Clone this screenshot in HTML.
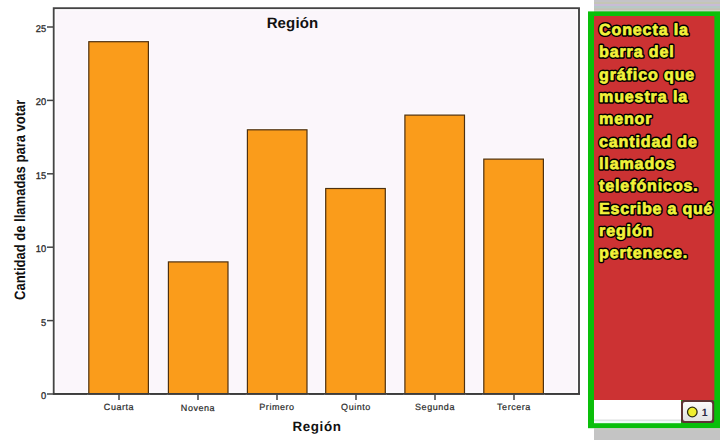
<!DOCTYPE html>
<html><head><meta charset="utf-8">
<style>
html,body{margin:0;padding:0;width:720px;height:440px;overflow:hidden;background:#fff;}
svg{display:block;}
text{font-family:"Liberation Sans", sans-serif;text-rendering:geometricPrecision;}
</style></head>
<body>
<svg width="720" height="440" viewBox="0 0 720 440">
  <rect x="0" y="0" width="720" height="440" fill="#ffffff"/>
  <!-- plot area -->
  <rect x="53.75" y="8.2" width="525.25" height="385.7" fill="#fbf6fb" stroke="#444444" stroke-width="1.9"/>
  <rect x="55.4" y="9.9" width="521.9" height="382.4" fill="none" stroke="#ffffff" stroke-width="1.2" stroke-opacity="0.8"/>
  <!-- y ticks -->
  <g stroke="#444" stroke-width="1.5">
    <line x1="47" y1="394" x2="53" y2="394"/>
    <line x1="47" y1="320.6" x2="53" y2="320.6"/>
    <line x1="47" y1="247.2" x2="53" y2="247.2"/>
    <line x1="47" y1="173.8" x2="53" y2="173.8"/>
    <line x1="47" y1="100.4" x2="53" y2="100.4"/>
    <line x1="47" y1="27" x2="53" y2="27"/>
  </g>
  <g font-size="10" fill="#2a2a2a" stroke="#2a2a2a" stroke-width="0.3" text-anchor="end">
    <text transform="translate(46.2,398.90) scale(0.93,0.97)">0</text>
    <text transform="translate(46.2,325.50) scale(0.93,0.97)">5</text>
    <text transform="translate(46.2,252.10) scale(0.93,0.97)">10</text>
    <text transform="translate(46.2,178.70) scale(0.93,0.97)">15</text>
    <text transform="translate(46.2,105.30) scale(0.93,0.97)">20</text>
    <text transform="translate(46.2,31.90) scale(0.93,0.97)">25</text>
  </g>
  <!-- bars -->
  <g fill="#ffffff" stroke="#ffffff" stroke-width="3.4" stroke-opacity="0.75">
    <rect x="88.8" y="41.7" width="59.6" height="352.3"/>
    <rect x="168.4" y="261.9" width="59.6" height="132.1"/>
    <rect x="247.4" y="129.8" width="59.6" height="264.2"/>
    <rect x="325.7" y="188.5" width="59.6" height="205.5"/>
    <rect x="404.9" y="115.1" width="59.6" height="278.9"/>
    <rect x="483.8" y="159.1" width="59.6" height="234.9"/>
  </g>
  <g fill="#fa9c1b" stroke="#4e3010" stroke-width="1.2">
    <rect x="88.8" y="41.7" width="59.6" height="352.3"/>
    <rect x="168.4" y="261.9" width="59.6" height="132.1"/>
    <rect x="247.4" y="129.8" width="59.6" height="264.2"/>
    <rect x="325.7" y="188.5" width="59.6" height="205.5"/>
    <rect x="404.9" y="115.1" width="59.6" height="278.9"/>
    <rect x="483.8" y="159.1" width="59.6" height="234.9"/>
  </g>
  <line x1="53" y1="393.9" x2="580" y2="393.9" stroke="#3c3c3c" stroke-width="1.9"/>
  <!-- x ticks -->
  <g stroke="#444" stroke-width="1.5">
    <line x1="119" y1="394" x2="119" y2="400"/>
    <line x1="198" y1="394" x2="198" y2="400"/>
    <line x1="277" y1="394" x2="277" y2="400"/>
    <line x1="356" y1="394" x2="356" y2="400"/>
    <line x1="435" y1="394" x2="435" y2="400"/>
    <line x1="514" y1="394" x2="514" y2="400"/>
  </g>
  <g font-size="9" fill="#2a2a2a" stroke="#2a2a2a" stroke-width="0.2" letter-spacing="0.55" text-anchor="middle">
    <text x="119" y="410">Cuarta</text>
    <text x="198" y="410.6">Novena</text>
    <text x="277" y="410">Primero</text>
    <text x="356" y="410">Quinto</text>
    <text x="435" y="410">Segunda</text>
    <text x="514" y="410">Tercera</text>
  </g>
  <text x="292.5" y="28.2" font-size="15" font-weight="bold" letter-spacing="0.15" text-anchor="middle" fill="#111">Región</text>
  <text x="317" y="431.2" font-size="13.4" font-weight="bold" letter-spacing="0.6" text-anchor="middle" fill="#111">Región</text>
  <text transform="translate(25.4,199.8) rotate(-90) scale(0.868,1)" font-size="15" font-weight="bold" text-anchor="middle" fill="#111">Cantidad de llamadas para votar</text>

  <!-- right panel -->
  <rect x="594" y="0" width="126" height="440" fill="#c4c4c4"/>
  <rect x="594" y="0" width="126" height="2" fill="#c4c3c8"/>
  <rect x="594" y="2" width="126" height="2" fill="#c4c6b6"/>
  <rect x="594" y="4" width="126" height="2" fill="#c8bcd6"/>
  <rect x="594" y="6" width="126" height="2.5" fill="#b6cac6"/>
  <rect x="594" y="8.5" width="126" height="1.5" fill="#c6c0b6"/>
  <rect x="594" y="10" width="126" height="1.5" fill="#cad2c4"/>
  <rect x="588" y="11.4" width="132" height="416.8" fill="#0abf0a"/>
  <rect x="594" y="428.2" width="126" height="2" fill="#c8cbc2"/>
  <rect x="594" y="16" width="120.4" height="384" fill="#cc3233"/>
  <rect x="594" y="400" width="87" height="23" fill="#ffffff"/>
  <rect x="594" y="419.6" width="87" height="1.2" fill="#d4d8d8"/>
  <rect x="594" y="420.8" width="87" height="2.4" fill="#eefdf6"/>
  <!-- button -->
  <defs><linearGradient id="bg" x1="0" y1="0" x2="0" y2="1"><stop offset="0" stop-color="#fbfbfb"/><stop offset="1" stop-color="#e2e2e2"/></linearGradient></defs>
  <rect x="681" y="400" width="33.2" height="23" rx="2.5" fill="#5e3434"/>
  <rect x="683" y="402" width="29.2" height="19" rx="2" fill="url(#bg)"/>
  <circle cx="692.3" cy="412" r="4.8" fill="#f0ee30" stroke="#2e2e10" stroke-width="1.3"/>
  <text x="704.7" y="415.8" font-size="10.5" font-weight="bold" fill="#2a2a44" text-anchor="middle">1</text>

  <g font-size="16" font-weight="bold" letter-spacing="0.9" fill="#000" stroke="#000" stroke-width="3.6" stroke-linejoin="round">
    <text x="599" y="35.1">Conecta la</text>
    <text x="599" y="57.4">barra del</text>
    <text x="599" y="79.7">gráfico que</text>
    <text x="599" y="102.0">muestra la</text>
    <text x="599" y="124.3">menor</text>
    <text x="599" y="146.6">cantidad de</text>
    <text x="599" y="168.9">llamados</text>
    <text x="599" y="191.2">telefónicos.</text>
    <text x="599" y="213.5" letter-spacing="0.78">Escribe a qué</text>
    <text x="599" y="235.8">región</text>
    <text x="599" y="258.1">pertenece.</text>
  </g>
  <g font-size="16" font-weight="bold" letter-spacing="0.9" fill="#f2f23a" stroke="#f2f23a" stroke-width="0.7" stroke-linejoin="round">
    <text x="599" y="35.1">Conecta la</text>
    <text x="599" y="57.4">barra del</text>
    <text x="599" y="79.7">gráfico que</text>
    <text x="599" y="102.0">muestra la</text>
    <text x="599" y="124.3">menor</text>
    <text x="599" y="146.6">cantidad de</text>
    <text x="599" y="168.9">llamados</text>
    <text x="599" y="191.2">telefónicos.</text>
    <text x="599" y="213.5" letter-spacing="0.78">Escribe a qué</text>
    <text x="599" y="235.8">región</text>
    <text x="599" y="258.1">pertenece.</text>
  </g>
</svg>
</body></html>
